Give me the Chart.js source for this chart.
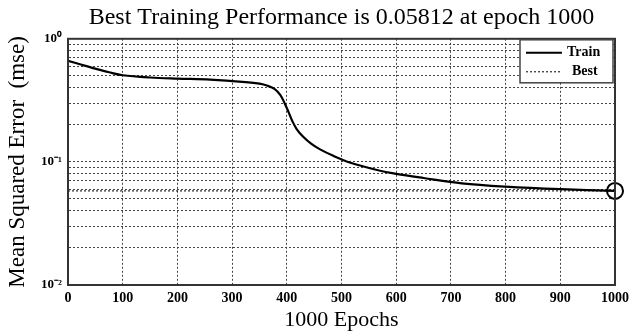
<!DOCTYPE html>
<html>
<head>
<meta charset="utf-8">
<script src="https://cdn.jsdelivr.net/npm/chart.js@4/dist/chart.umd.min.js"></script>
<style>
  html, body { margin: 0; padding: 0; background: #fff; }
  #wrap { width: 634px; height: 333px; }
</style>
</head>
<body>
<div id="wrap"><canvas id="perf"></canvas></div>
<script>
// training curve
const epochs = [0, 25, 50, 75, 100, 150, 200, 260, 325, 350, 365, 378, 388, 396, 403, 410, 418, 430, 445, 460, 485, 515, 565, 600, 650, 720, 800, 900, 1000];
const mse = [0.663, 0.615, 0.572, 0.535, 0.506, 0.485, 0.475, 0.466, 0.445, 0.432, 0.415, 0.39, 0.35, 0.30, 0.255, 0.215, 0.185, 0.16, 0.14, 0.127, 0.112, 0.099, 0.086, 0.080, 0.074, 0.067, 0.063, 0.060, 0.05812];
const bestEpoch = 1000;
const bestValue = 0.05812;
const xTicks = [0, 100, 200, 300, 400, 500, 600, 700, 800, 900, 1000];
const yTicks = [0.01, 0.02, 0.03, 0.04, 0.05, 0.06, 0.07, 0.08, 0.09,
                0.1, 0.2, 0.3, 0.4, 0.5, 0.6, 0.7, 0.8, 0.9, 1];
const yLabels = { 0.01: '10\u207B\u00B2', 0.1: '10\u207B\u00B9', 1: '10\u2070' };

const serif = 'Liberation Serif';

// frame round the plot + legend box inside, top right
const framePlugin = {
  id: 'frame',
  afterDraw(chart) {
    const c = chart.ctx;
    const a = chart.chartArea;
    c.save();
    c.strokeStyle = '#333';
    c.lineWidth = 2;
    c.strokeRect(a.left, a.top, a.right - a.left, a.bottom - a.top);

    // legend
    const bx = a.right - 95, by = a.top + 1, bw = 93, bh = 43;
    c.fillStyle = '#fff';
    c.fillRect(bx, by, bw, bh);
    c.strokeStyle = '#444';
    c.lineWidth = 1.5;
    c.strokeRect(bx, by, bw, bh);
    c.strokeStyle = '#000';
    c.lineWidth = 2;
    c.beginPath();
    c.moveTo(bx + 6, by + 13);
    c.lineTo(bx + 42, by + 13);
    c.stroke();
    c.lineWidth = 1;
    c.setLineDash([2, 2]);
    c.beginPath();
    c.moveTo(bx + 6, by + 32);
    c.lineTo(bx + 42, by + 32);
    c.stroke();
    c.setLineDash([]);
    c.fillStyle = '#000';
    c.font = 'bold 14px "' + serif + '"';
    c.textBaseline = 'middle';
    c.fillText('Train', bx + 47, by + 13);
    c.fillText('Best', bx + 52, by + 32);
    c.restore();
  }
};

const ctx = document.getElementById('perf').getContext('2d');

const perfChart = new Chart(ctx, {
  type: 'line',
  data: {
    datasets: [
      {
        label: 'Train',
        data: epochs.map((e, i) => ({ x: e, y: mse[i] })),
        borderColor: '#000',
        borderWidth: 2.2,
        pointRadius: 0,
        tension: 0.35,
        fill: false
      },
      {
        label: 'Best',
        data: [{ x: 0, y: bestValue }, { x: bestEpoch, y: bestValue }],
        borderColor: '#000',
        borderWidth: 1,
        borderDash: [2, 2],
        pointRadius: 0,
        fill: false
      },
      {
        label: 'best point',
        data: [{ x: bestEpoch, y: bestValue }],
        showLine: false,
        pointRadius: 8,
        pointBorderWidth: 2,
        pointBorderColor: '#000',
        pointBackgroundColor: 'rgba(0,0,0,0)',
        clip: false
      }
    ]
  },
  options: {
    responsive: true,
    maintainAspectRatio: false,
    animation: false,
    layout: { padding: { left: 0, right: 17, top: 0, bottom: 0 } },
    plugins: {
      legend: { display: false },
      tooltip: { enabled: false },
      title: {
        display: true,
        fullSize: false,
        text: 'Best Training Performance is 0.05812 at epoch 1000',
        color: '#000',
        font: { family: serif, size: 24, weight: 'normal' },
        padding: { top: 3, bottom: 7 }
      }
    },
    scales: {
      x: {
        type: 'linear',
        min: 0,
        max: 1000,
        afterBuildTicks: (s) => { s.ticks = xTicks.map(v => ({ value: v })); },
        afterFit: (s) => { s.height = 48; },
        grid: {
          color: '#444',
          lineWidth: 1,
          drawTicks: false
        },
        border: { display: true, color: '#333', width: 2, dash: [2, 2] },
        ticks: {
          color: '#000',
          padding: 5,
          maxRotation: 0,
          font: { family: serif, size: 14, weight: 'bold' },
          callback: (v) => String(v)
        },
        title: {
          display: true,
          text: '1000 Epochs',
          color: '#000',
          padding: { top: 0, bottom: 0 },
          font: { family: serif, size: 22 }
        }
      },
      y: {
        type: 'logarithmic',
        min: 0.01,
        max: 1,
        afterBuildTicks: (s) => { s.ticks = yTicks.map(v => ({ value: v })); },
        afterFit: (s) => { s.width = 68; },
        grid: {
          color: '#444',
          lineWidth: 1,
          drawTicks: false
        },
        border: { display: true, color: '#333', width: 2, dash: [2, 2] },
        ticks: {
          color: '#000',
          padding: 6,
          autoSkip: false,
          font: { family: serif, size: 13, weight: 'bold' },
          callback: (v) => yLabels[v] || ''
        },
        title: {
          display: true,
          text: 'Mean Squared Error  (mse)',
          color: '#000',
          padding: { top: 4, bottom: 2 },
          font: { family: serif, size: 23 }
        }
      }
    }
  },
  plugins: [framePlugin]
});
</script>
</body>
</html>
